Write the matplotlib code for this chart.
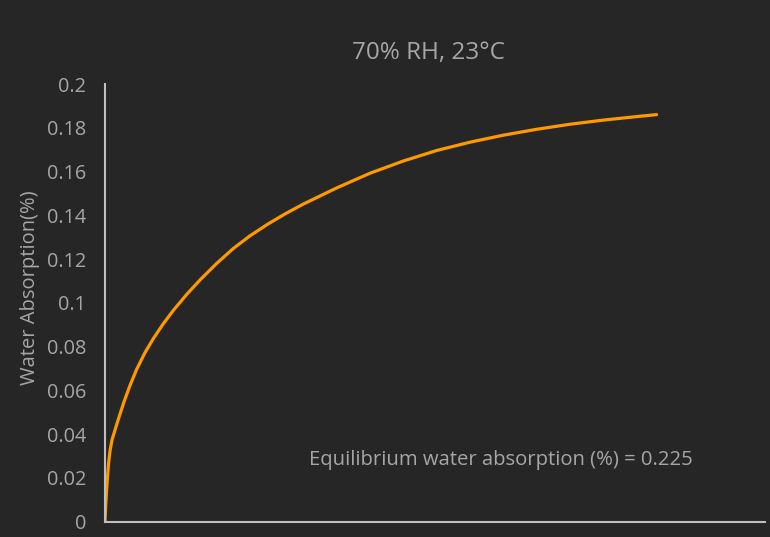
import matplotlib
matplotlib.use("Agg")
import matplotlib.pyplot as plt

plt.rcParams['font.family'] = ['Open Sans', 'DejaVu Sans']

# Data (x in arbitrary time units, y in %)
time = [0, 0.073, 0.164, 0.291, 0.455, 0.655, 0.909, 1.273, 2.418, 3.455, 4.545, 5.764,
        7.273, 8.782, 10.6, 12.42, 14.85, 17.27, 20.31, 23.33, 26.36, 29.64, 32.73,
        36.05, 42.13, 48.18, 54.24, 60.31, 66.36, 72.42, 78.49, 84.55, 90.6, 96.67, 100.3]
absorption = [0, 0.0043, 0.0089, 0.0144, 0.0203, 0.0267, 0.0322, 0.0373, 0.0467, 0.0547,
              0.0622, 0.0696, 0.0772, 0.0836, 0.0904, 0.0965, 0.1038, 0.1104, 0.1180,
              0.1248, 0.1306, 0.1360, 0.1406, 0.1451, 0.1525, 0.1592, 0.1648, 0.1696,
              0.1734, 0.1766, 0.1793, 0.1816, 0.1835, 0.1851, 0.1860]
y_ticks = [0, 0.02, 0.04, 0.06, 0.08, 0.1, 0.12, 0.14, 0.16, 0.18, 0.2]
y_tick_labels = ['0', '0.02', '0.04', '0.06', '0.08', '0.1', '0.12', '0.14', '0.16', '0.18', '0.2']
title = '70% RH, 23°C'
y_label = 'Water Absorption(%)'
note = 'Equilibrium water absorption (%) = 0.225'

bg = '#262626'
text_c = '#A6A6A6'
axis_c = '#BFBFBF'
line_c = '#FF9900'

fig = plt.figure(figsize=(7.7, 5.37), dpi=100, facecolor=bg)
ax = fig.add_axes([105/770, 15.5/537, 660/770, 437.5/537], facecolor=bg)

ax.plot(time, absorption, color=line_c, lw=2.3, solid_capstyle='round', solid_joinstyle='round')

ax.set_xlim(0, 120)
ax.set_ylim(0, 0.2)
ax.set_yticks(y_ticks)
ax.set_yticklabels(y_tick_labels)
ax.set_xticks([])
ax.tick_params(axis='y', length=0, pad=13.5, labelsize=14.3, labelcolor=text_c)

for s in ['top', 'right']:
    ax.spines[s].set_visible(False)
for s in ['left', 'bottom']:
    ax.spines[s].set_color(axis_c)
    ax.spines[s].set_linewidth(1.5)

fig.text(30/770, 1 - 287.5/537, y_label, rotation=90, ha='center', va='center',
         color=text_c, fontsize=14.5)
fig.text(428/770, 1 - 53/537, title, ha='center', va='center', color=text_c, fontsize=17.5)
fig.text(500.5/770, 1 - 460/537, note, ha='center', va='center', color=text_c, fontsize=14.6)

fig.savefig('out.png', dpi=100, facecolor=bg)
